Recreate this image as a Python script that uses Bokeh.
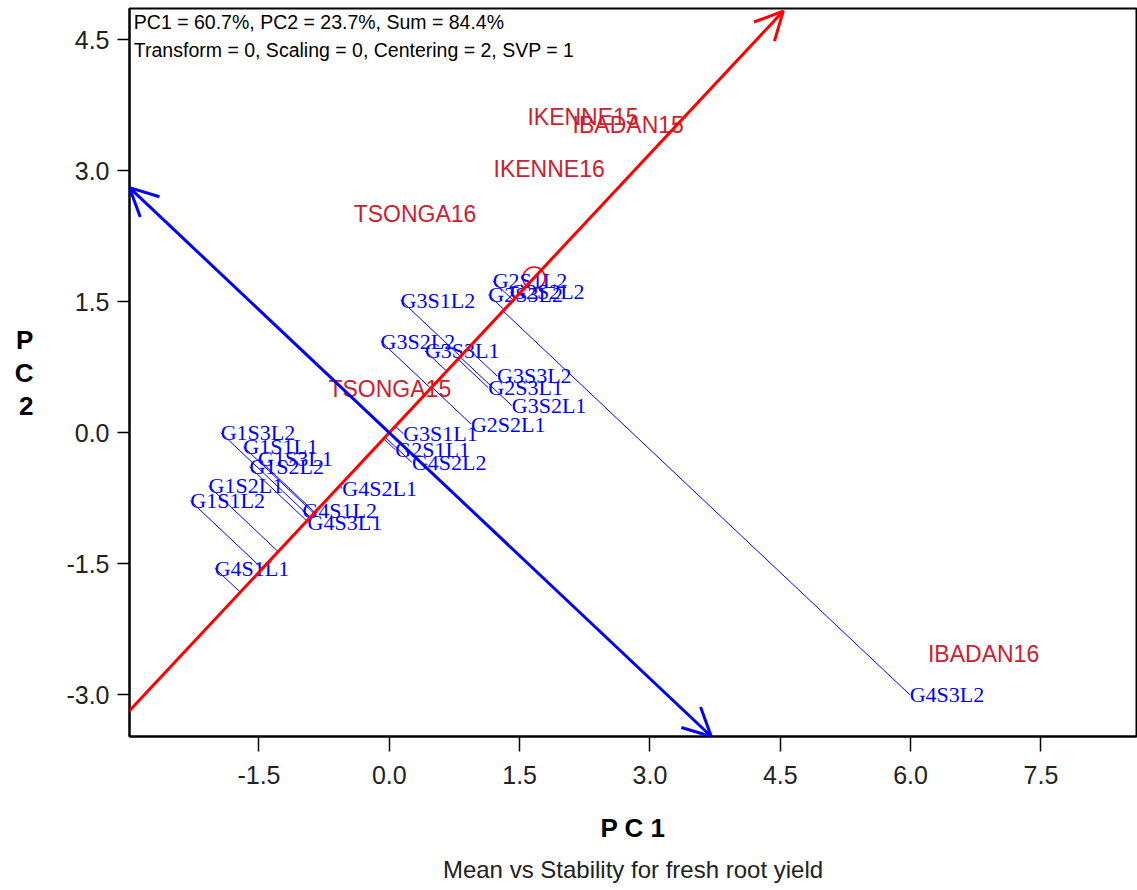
from bokeh.plotting import figure
from bokeh.models import Range1d, FixedTicker, PrintfTickFormatter, Arrow, OpenHead, Label, Title
from bokeh.core.properties import value
from bokeh.embed import file_html
from bokeh.resources import INLINE
import numpy as np

# ---------------- data ----------------
env_names = ["IKENNE15", "IBADAN15", "IKENNE16", "TSONGA16", "TSONGA15", "IBADAN16"]
env_pc1 = [1.59, 2.11, 1.20, -0.41, -0.70, 6.20]
env_pc2 = [3.62, 3.53, 3.02, 2.51, 0.50, -2.54]

gen_names = ["G3S1L2", "G2S1L2", "G2S3L2", "G2S2L2", "G3S2L2", "G3S3L1",
             "G3S3L2", "G2S3L1", "G3S2L1", "G2S2L1", "G3S1L1", "G2S1L1",
             "G4S2L2", "G4S2L1", "G1S3L2", "G1S1L1", "G1S3L1", "G1S2L2",
             "G1S2L1", "G1S1L2", "G4S1L2", "G4S3L1", "G4S1L1", "G4S3L2"]
gen_pc1 = [0.13, 1.19, 1.14, 1.39, -0.10, 0.41,
           1.24, 1.14, 1.41, 0.94, 0.16, 0.07,
           0.26, -0.54, -1.94, -1.68, -1.51, -1.61,
           -2.08, -2.29, -1.00, -0.94, -2.01, 5.99]
gen_pc2 = [1.52, 1.74, 1.58, 1.615, 1.05, 0.94,
           0.65, 0.515, 0.31, 0.10, -0.01, -0.195,
           -0.34, -0.64, 0.00, -0.16, -0.30, -0.39,
           -0.61, -0.78, -0.89, -1.03, -1.55, -3.00]

x_ticks = [-1.5, 0.0, 1.5, 3.0, 4.5, 6.0, 7.5]
y_ticks = [-3.0, -1.5, 0.0, 1.5, 3.0, 4.5]

info_line1 = "PC1 = 60.7%, PC2 = 23.7%, Sum = 84.4%"
info_line2 = "Transform = 0, Scaling = 0, Centering = 2, SVP = 1"
title_text = "Mean vs Stability for fresh root yield"

# ---------------- derived ----------------
XMIN, XMAX, YMIN, YMAX = -2.99, 8.6, -3.48, 4.86
ax_, ay_ = float(np.mean(env_pc1)), float(np.mean(env_pc2))
norm = np.hypot(ax_, ay_)
ux, uy = ax_ / norm, ay_ / norm
g1 = np.array(gen_pc1); g2 = np.array(gen_pc2)
t = g1 * ux + g2 * uy
fx, fy = t * ux, t * uy

slope_r = ay_ / ax_
slope_b = -ax_ / ay_

p = figure(width=1137, height=890, x_range=Range1d(XMIN, XMAX), y_range=Range1d(YMIN, YMAX),
           output_backend="svg", toolbar_location=None,
           min_border_left=129, min_border_right=1, min_border_top=8, min_border_bottom=154)
p.background_fill_color = "white"
p.border_fill_color = "white"
p.grid.visible = False
p.outline_line_color = "black"
p.outline_line_width = 2

for axis in (p.xaxis[0], p.yaxis[0]):
    axis.formatter = PrintfTickFormatter(format="%.1f")
    axis.minor_tick_line_color = None
    axis.major_tick_in = 0
    axis.major_tick_line_color = "black"
    axis.major_tick_line_width = 1.5
    axis.axis_line_color = "black"
    axis.axis_line_width = 2
    axis.major_label_text_font = "Liberation Sans"
    axis.major_label_text_font_size = "25px"
    axis.major_label_text_color = "#222222"
    axis.axis_label_text_font = "Liberation Sans"
    axis.axis_label_text_font_style = "bold"
    axis.axis_label_text_font_size = "26px"
    axis.axis_label_text_color = "black"

p.xaxis.ticker = FixedTicker(ticks=x_ticks)
p.yaxis.ticker = FixedTicker(ticks=y_ticks)
p.xaxis.major_tick_out = 15
p.yaxis.major_tick_out = 12
p.xaxis.major_label_standoff = 14
p.yaxis.major_label_standoff = 8
p.xaxis.axis_label = "P C 1"
p.xaxis.axis_label_standoff = 26
p.yaxis.axis_label = "P\nC\n2"
p.yaxis.axis_label_orientation = "horizontal"
p.yaxis.axis_label_standoff = 30
p.yaxis.axis_label_text_line_height = 1.1

# projection lines
p.segment(x0=gen_pc1, y0=gen_pc2, x1=fx, y1=fy, line_color="blue", line_width=1)

# average environment marker
p.scatter([ax_], [ay_], marker="circle", size=22, fill_color=None, line_color="red", line_width=1.5)

# labels
p.text(x=gen_pc1, y=gen_pc2, text=gen_names, text_font=value("Liberation Serif"),
       text_font_size="22px", text_color="blue", text_align="left", text_baseline="middle")
p.text(x=env_pc1, y=env_pc2, text=env_names, text_font=value("Liberation Sans"),
       text_font_size="23px", text_color="#cc2030", text_align="left", text_baseline="middle")

# average environment axis (red) and its perpendicular (blue)
rx0, ry0 = XMIN, slope_r * XMIN
ry1 = YMAX - 0.03
rx1 = ry1 / slope_r
p.add_layout(Arrow(end=OpenHead(size=28, line_color="red", line_width=3),
                   x_start=rx0, y_start=ry0, x_end=rx1, y_end=ry1,
                   line_color="red", line_width=3))
bx0, by0 = XMIN, slope_b * XMIN
by1 = YMIN
bx1 = by1 / slope_b
p.add_layout(Arrow(start=OpenHead(size=28, line_color="blue", line_width=3),
                   end=OpenHead(size=28, line_color="blue", line_width=3),
                   x_start=bx0, y_start=by0, x_end=bx1, y_end=by1,
                   line_color="blue", line_width=3))

p.add_layout(Label(x=XMIN + 0.05, y=YMAX - 0.03, text=info_line1, text_font="Liberation Sans",
                   text_font_size="19.5px", text_align="left", text_baseline="top", text_color="black"))
p.add_layout(Label(x=XMIN + 0.05, y=YMAX - 0.35, text=info_line2, text_font="Liberation Sans",
                   text_font_size="19.5px", text_align="left", text_baseline="top", text_color="black"))

p.add_layout(Title(text=title_text, align="center", text_font="Liberation Sans",
                   text_font_size="24px", text_font_style="normal", text_color="#222222",
                   standoff=16), "below")

open("out.html", "w").write(file_html(p, INLINE))
